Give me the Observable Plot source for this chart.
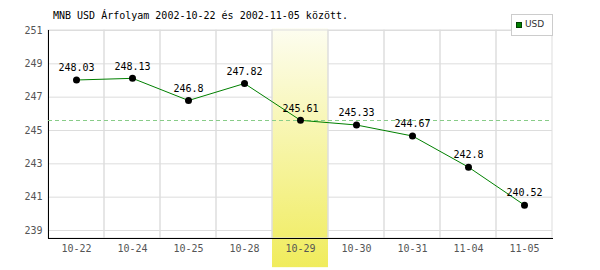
<!DOCTYPE html>
<html>
<head>
<meta charset="utf-8">
<script src="https://cdn.jsdelivr.net/npm/d3@7"></script>
<script src="https://cdn.jsdelivr.net/npm/@observablehq/plot@0.6"></script>
<style>
  body { margin: 0; background: #fff; }
  #wrap { position: relative; width: 600px; height: 270px; }
  #wrap svg { position: absolute; left: 0; top: 0; }
  #title { position: absolute; left: 53px; top: 10px; font: 10px "DejaVu Sans Mono", monospace; color: #000; white-space: pre; z-index: 2; }
  #legend { position: absolute; left: 511px; top: 14px; width: 40px; height: 20px; border: 1px solid #ccc; background: #fff; z-index: 2; }
  #legend .sw { position: absolute; left: 4px; top: 7px; width: 6px; height: 6px; background: #008000; border: 1px solid #004000; box-sizing: border-box; }
  #legend .lb { position: absolute; left: 13px; top: 4px; font: 9px "DejaVu Sans", sans-serif; color: #333; }
</style>
</head>
<body>
<div id="wrap">
  <div id="title">MNB USD Árfolyam 2002-10-22 és 2002-11-05 között.</div>
  <div id="legend"><div class="sw"></div><div class="lb">USD</div></div>
</div>
<script>
const dates = ["10-22", "10-24", "10-25", "10-28", "10-29", "10-30", "10-31", "11-04", "11-05"];
const rates = [248.03, 248.13, 246.8, 247.82, 245.61, 245.33, 244.67, 242.8, 240.52];
const yTicks = [239, 241, 243, 245, 247, 249, 251];
const yDomain = [238.52, 251];
const highlightDate = "10-29";
const highlightSpan = [236.77, 251.1];
const averageRate = 245.6;

const data = dates.map((d, i) => ({date: d, rate: rates[i]}));

const chart = Plot.plot({
  width: 600,
  height: 270,
  marginLeft: 48,
  marginRight: 48,
  marginTop: 30,
  marginBottom: 32,
  style: {fontFamily: "'DejaVu Sans Mono', monospace", fontSize: "10px", background: "transparent"},
  x: {type: "band", domain: dates, padding: 0},
  y: {domain: yDomain},
  marks: [
    Plot.ruleY(yTicks, {stroke: "#dddddd"}),
    Plot.barY([highlightDate], {x: d => d, y1: highlightSpan[0], y2: highlightSpan[1], fill: "url(#hlgrad)", clip: false}),
    Plot.barY(dates, {x: d => d, y1: yDomain[0], y2: yDomain[1], fill: "none", stroke: "#dddddd"}),
    Plot.axisY({ticks: yTicks, tickSize: 0, tickPadding: 6, fill: "#555", label: null}),
    Plot.axisX({tickSize: 0, tickPadding: 6, fill: "#555", label: null}),
    Plot.frame({anchor: "left", stroke: "#000"}),
    Plot.frame({anchor: "bottom", stroke: "#000"}),
    Plot.ruleY([averageRate], {stroke: "#88cc88", strokeDasharray: "4,3"}),
    Plot.line(data, {x: "date", y: "rate", stroke: "#008000", strokeWidth: 1}),
    Plot.dot(data, {x: "date", y: "rate", r: 3.5, fill: "#000"}),
    Plot.text(data, {x: "date", y: "rate", text: d => String(d.rate), dy: -12, fill: "#000"})
  ]
});

const defs = d3.select(chart).insert("defs", ":first-child");
const g = defs.append("linearGradient").attr("id", "hlgrad").attr("x1", 0).attr("y1", 0).attr("x2", 0).attr("y2", 1);
g.append("stop").attr("offset", "0%").attr("stop-color", "#fdfdf0");
g.append("stop").attr("offset", "100%").attr("stop-color", "#f0ec5c");

document.getElementById("wrap").prepend(chart);
</script>
</body>
</html>
